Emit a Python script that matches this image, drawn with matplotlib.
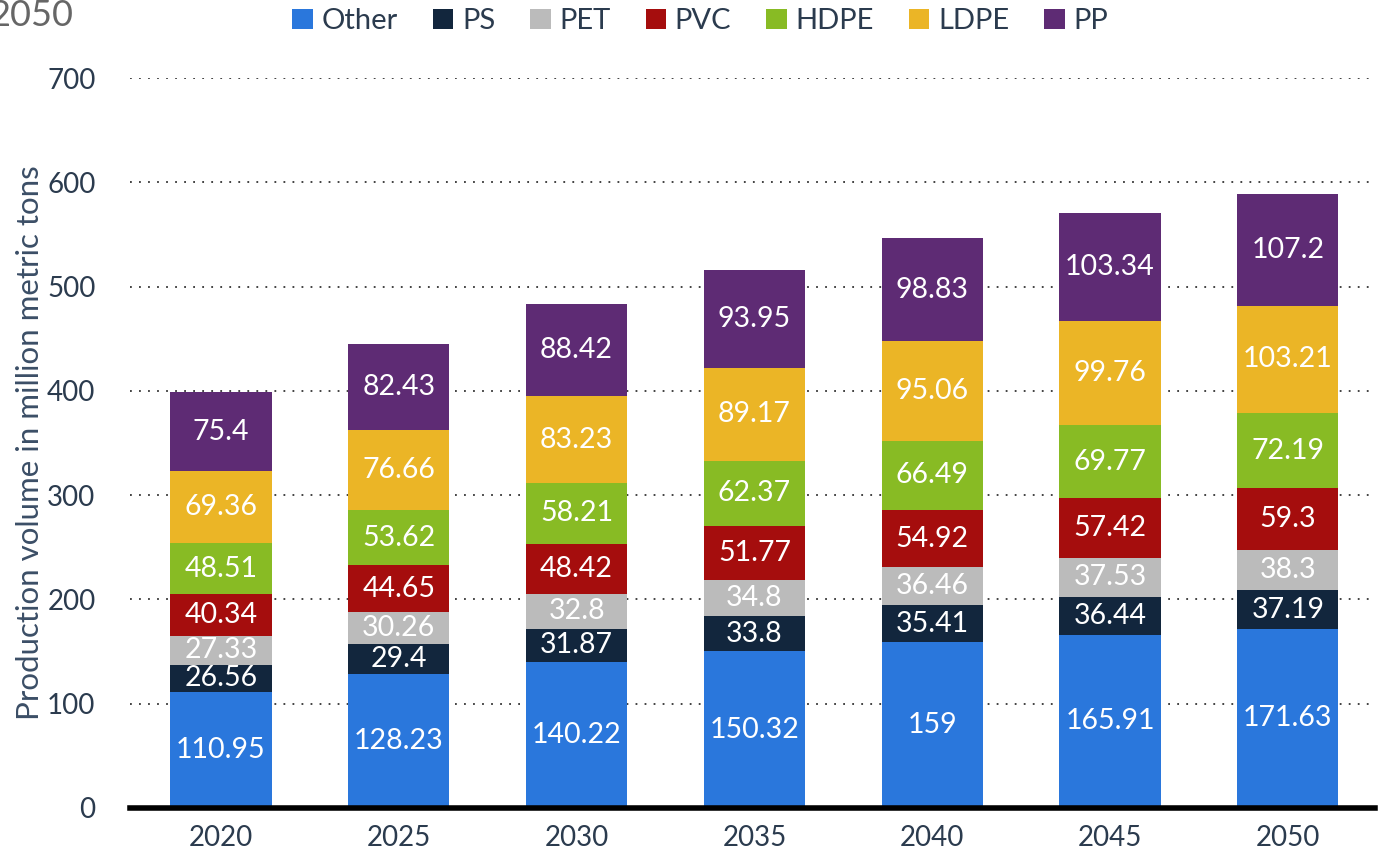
import matplotlib.pyplot as plt
import numpy as np

years = ["2020", "2025", "2030", "2035", "2040", "2045", "2050"]
series = ["Other", "PS", "PET", "PVC", "HDPE", "LDPE", "PP"]
other = [110.95, 128.23, 140.22, 150.32, 159, 165.91, 171.63]
ps = [26.56, 29.4, 31.87, 33.8, 35.41, 36.44, 37.19]
pet = [27.33, 30.26, 32.8, 34.8, 36.46, 37.53, 38.3]
pvc = [40.34, 44.65, 48.42, 51.77, 54.92, 57.42, 59.3]
hdpe = [48.51, 53.62, 58.21, 62.37, 66.49, 69.77, 72.19]
ldpe = [69.36, 76.66, 83.23, 89.17, 95.06, 99.76, 103.21]
pp = [75.4, 82.43, 88.42, 93.95, 98.83, 103.34, 107.2]
colors = ["#2a77dc", "#12263d", "#bbbbbb", "#a50d0d", "#88bb24", "#ebb526", "#5e2b74"]

plt.rcParams['font.family'] = ['Lato', 'DejaVu Sans']
txt = "#2b3b4e"

fig = plt.figure(figsize=(13.86, 8.61), dpi=100)
ax = fig.add_axes([0.094, 0.0616, 0.898, 0.8478])

x = np.arange(len(years))
bottom = np.zeros(len(years))
for name, vals, c in zip(series, [other, ps, pet, pvc, hdpe, ldpe, pp], colors):
    vals = np.array(vals)
    ax.bar(x, vals, 0.57, bottom=bottom, color=c, label=name, zorder=3)
    for xi, b, v in zip(x, bottom, vals):
        ax.text(xi, b + v / 2, f"{v:g}", ha="center", va="center",
                color="white", fontsize=20.5, zorder=4)
    bottom += vals

ax.set_xlim(-0.51, 6.49)
ax.set_ylim(0, 700)
ax.set_yticks(range(0, 701, 100))
ax.set_xticks(x)
ax.set_xticklabels(years)
ax.tick_params(length=0, labelsize=20, colors=txt, pad=12)
ax.tick_params(axis="y", pad=25)
ax.grid(axis="y", linestyle=(0, (1, 4)), color="#333333", linewidth=1.3, zorder=0)
for s in ["top", "right", "left"]:
    ax.spines[s].set_visible(False)
ax.spines["bottom"].set_linewidth(4)
ax.spines["bottom"].set_color("black")
ax.spines["bottom"].set_zorder(5)

ax.set_ylabel("Production volume in million metric tons", fontsize=22.5,
              color="#3b4e66", labelpad=2)

ax.legend(loc="center", bbox_to_anchor=(0.458, 1.078), ncol=7, frameon=False,
          fontsize=21, handlelength=0.7, handleheight=0.7, handletextpad=0.3,
          columnspacing=1.2, labelcolor=txt)

fig.text(-0.008, 0.982, "2050", fontsize=26, color="#666666", va="center")

fig.savefig("out.png", dpi=100)
